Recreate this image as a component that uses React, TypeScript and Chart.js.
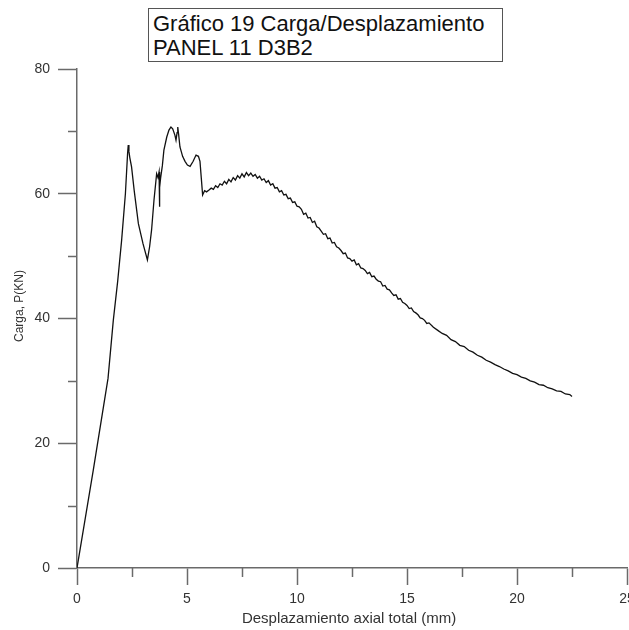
import React, { useEffect, useRef } from "react";
import { Chart, registerables } from "chart.js";

Chart.register(...registerables);

const TITLE_LINES = ["Gráfico 19 Carga/Desplazamiento", "PANEL 11 D3B2"];
const X_TITLE = "Desplazamiento axial total (mm)";
const Y_TITLE = "Carga, P(KN)";

const X_MIN = 0;
const X_MAX = 25;
const X_STEP = 5;
const X_MINOR = [2.5, 7.5, 12.5, 17.5, 22.5];
const Y_MIN = 0;
const Y_MAX = 80;
const Y_STEP = 20;
const Y_MINOR = [10, 30, 50, 70];

// Displacement (mm)
const DISP_MM = [
  0, 0.74, 1.41, 1.65, 1.85, 2.03, 2.2, 2.3, 2.33, 2.36,
  2.4, 2.48, 2.6, 2.79, 3.0, 3.2, 3.3, 3.39, 3.5, 3.62,
  3.68, 3.73, 3.74, 3.77, 3.8, 3.88, 3.95, 4.08, 4.18, 4.27,
  4.35, 4.45, 4.5, 4.55, 4.58, 4.62, 4.68, 4.8, 4.91, 5.02,
  5.14, 5.28, 5.41, 5.52, 5.59, 5.65, 5.71, 5.8, 5.89, 6.0,
  6.1, 6.2, 6.3, 6.4, 6.5, 6.6, 6.7, 6.8, 6.9, 7.0,
  7.1, 7.2, 7.3, 7.4, 7.5, 7.6, 7.7, 7.8, 7.9, 8.0,
  8.1, 8.2, 8.3, 8.4, 8.5, 8.6, 8.7, 8.8, 8.9, 9.0,
  9.1, 9.2, 9.3, 9.4, 9.5, 9.6, 9.7, 9.8, 9.9, 10.0,
  10.1, 10.2, 10.3, 10.4, 10.5, 10.6, 10.7, 10.8, 10.9, 11.0,
  11.1, 11.2, 11.3, 11.4, 11.5, 11.6, 11.7, 11.8, 11.9, 12.0,
  12.1, 12.2, 12.3, 12.4, 12.5, 12.6, 12.7, 12.8, 12.9, 13.0,
  13.1, 13.2, 13.3, 13.4, 13.5, 13.6, 13.7, 13.8, 13.9, 14.0,
  14.1, 14.2, 14.3, 14.4, 14.5, 14.6, 14.7, 14.8, 14.9, 15.0,
  15.1, 15.2, 15.3, 15.4, 15.5, 15.6, 15.7, 15.8, 15.9, 16.0,
  16.2, 16.4, 16.6, 16.8, 17.0, 17.2, 17.4, 17.6, 17.8, 18.0,
  18.2, 18.4, 18.6, 18.8, 19.0, 19.2, 19.4, 19.6, 19.8, 20.0,
  20.2, 20.4, 20.6, 20.8, 21.0, 21.2, 21.4, 21.6, 21.8, 22.0,
  22.2, 22.4, 22.5,
];

// Load (kN)
const LOAD_KN = [
  0, 15.7, 30.4, 39.7, 46, 52.6, 60, 66.5, 67.8, 66.8,
  65.8, 64.3, 60.5, 55.2, 52, 49.4, 51.5, 54.2, 59, 63.2,
  62.6, 63.5, 57.9, 61, 62.5, 64.5, 67, 69.1, 70.2, 70.7,
  70.4, 69.4, 68.6, 69.8, 70.7, 69.5, 67.5, 66, 65.2, 64.6,
  64.4, 65.2, 66.2, 66, 65.2, 62.5, 59.8, 60.5, 60.3, 60.6,
  60.9, 60.7, 61.3, 61.0, 61.6, 61.4, 62.0, 61.6, 62.3, 61.9,
  62.6, 62.2, 62.9, 62.5, 63.2, 62.7, 63.4, 62.9, 63.3, 62.8,
  63.1, 62.5, 62.8, 62.2, 62.4, 61.8, 62.1, 61.4, 61.6, 60.9,
  61.0, 60.3, 60.5, 59.8, 59.9, 59.2, 59.3, 58.6, 58.7, 58.0,
  57.9, 57.5, 56.7, 56.9, 56.1, 56.2, 55.4, 55.6, 54.7, 54.5,
  54.0, 53.5, 53.6, 52.8, 52.9, 52.1, 52.2, 51.5, 51.3, 50.9,
  50.4, 50.5, 49.7, 49.6, 49.2, 49.4, 48.6, 48.8, 48.1, 48.0,
  47.7, 47.2, 47.4, 46.7, 46.8, 46.3, 46.0, 45.9, 45.2, 45.3,
  44.7, 44.6, 44.1, 43.7, 43.8, 43.1, 43.2, 42.6, 42.4, 42.1,
  41.6, 41.7, 41.1, 40.9, 40.6, 40.1, 40.0, 39.7, 39.2, 39.3,
  38.6, 38.1, 37.6, 37.3, 36.6, 36.3, 35.7, 35.5, 34.9, 34.6,
  34.1, 33.8, 33.3, 33.0, 32.6, 32.3, 31.9, 31.6, 31.2, 31.0,
  30.6, 30.4, 30.0, 29.8, 29.4, 29.3, 28.9, 28.7, 28.4, 28.3,
  27.9, 27.8, 27.5,
];

const FONT = '"Liberation Sans", Arial, Helvetica, sans-serif';
const AXIS_COLOR = "#6a6a6a";
const TEXT_COLOR = "#333333";

const extrasPlugin = {
  id: "extras",
  afterDraw(chart: any) {
    const { ctx, chartArea, scales } = chart;
    ctx.save();
    ctx.strokeStyle = AXIS_COLOR;
    ctx.lineWidth = 1.5;
    Y_MINOR.forEach((v) => {
      const y = Math.round(scales.y.getPixelForValue(v)) + 0.5;
      ctx.beginPath();
      ctx.moveTo(chartArea.left - 9, y);
      ctx.lineTo(chartArea.left, y);
      ctx.stroke();
    });
    X_MINOR.forEach((v) => {
      const x = Math.round(scales.x.getPixelForValue(v)) + 0.5;
      ctx.beginPath();
      ctx.moveTo(x, chartArea.bottom);
      ctx.lineTo(x, chartArea.bottom + 9);
      ctx.stroke();
    });
    ctx.fillStyle = TEXT_COLOR;
    ctx.font = `15px ${FONT}`;
    ctx.textAlign = "center";
    ctx.textBaseline = "alphabetic";
    ctx.fillText(X_TITLE, (chartArea.left + chartArea.right) / 2 - 3, chart.height - 7);
    ctx.translate(20, chartArea.top + (chartArea.bottom - chartArea.top) * 0.475);
    ctx.rotate(-Math.PI / 2);
    ctx.font = `12px ${FONT}`;
    ctx.textBaseline = "middle";
    ctx.fillText(Y_TITLE, 0, 0);
    ctx.restore();
  },
};

export default function App() {
  const canvasRef = useRef<HTMLCanvasElement | null>(null);

  useEffect(() => {
    if (!canvasRef.current) return;
    const points = DISP_MM.map((x, i) => ({ x, y: LOAD_KN[i] }));
    const chart = new Chart(canvasRef.current, {
      type: "scatter",
      data: {
        datasets: [
          {
            label: "Carga",
            data: points,
            showLine: true,
            borderColor: "#111111",
            borderWidth: 1.3,
            pointRadius: 0,
            tension: 0,
          },
        ],
      },
      options: {
        responsive: false,
        animation: false,
        layout: { padding: { top: 69, right: 2, left: 0, bottom: 0 } },
        plugins: {
          legend: { display: false },
          tooltip: { enabled: false },
          title: { display: false },
        },
        scales: {
          x: {
            type: "linear",
            min: X_MIN,
            max: X_MAX,
            ticks: {
              stepSize: X_STEP,
              color: TEXT_COLOR,
              font: { family: FONT, size: 14 },
              padding: 6,
              maxRotation: 0,
            },
            grid: {
              drawOnChartArea: false,
              drawTicks: true,
              tickLength: 17,
              tickColor: AXIS_COLOR,
              tickWidth: 1.5,
              color: AXIS_COLOR,
            },
            border: { display: true, color: AXIS_COLOR, width: 1.5 },
            afterFit: (scale: any) => {
              scale.height = 62;
              scale.paddingLeft = 0;
              scale.paddingRight = 0;
            },
          },
          y: {
            type: "linear",
            min: Y_MIN,
            max: Y_MAX,
            ticks: {
              stepSize: Y_STEP,
              color: TEXT_COLOR,
              font: { family: FONT, size: 14 },
              padding: 8,
            },
            grid: {
              drawOnChartArea: false,
              drawTicks: true,
              tickLength: 19,
              tickColor: AXIS_COLOR,
              tickWidth: 1.5,
              color: AXIS_COLOR,
            },
            border: { display: true, color: AXIS_COLOR, width: 1.5 },
            afterFit: (scale: any) => {
              scale.width = 77;
              scale.paddingTop = 0;
              scale.paddingBottom = 0;
            },
          },
        },
      },
      plugins: [extrasPlugin],
    });
    return () => chart.destroy();
  }, []);

  return (
    <div style={{ position: "fixed", left: 0, top: 0, width: 629, height: 630, background: "#ffffff" }}>
      <canvas ref={canvasRef} width={629} height={630} style={{ width: 629, height: 630, display: "block" }} />
      <div
        style={{
          position: "absolute",
          left: 148,
          top: 8,
          width: 355,
          height: 54,
          boxSizing: "border-box",
          border: "1.5px solid #555555",
          paddingTop: 3,
          paddingLeft: 4,
          fontFamily: FONT,
          fontSize: 22,
          lineHeight: "23.5px",
          color: "#111111",
          background: "#ffffff",
          whiteSpace: "nowrap",
        }}
      >
        {TITLE_LINES.map((t) => (
          <div key={t}>{t}</div>
        ))}
      </div>
    </div>
  );
}
